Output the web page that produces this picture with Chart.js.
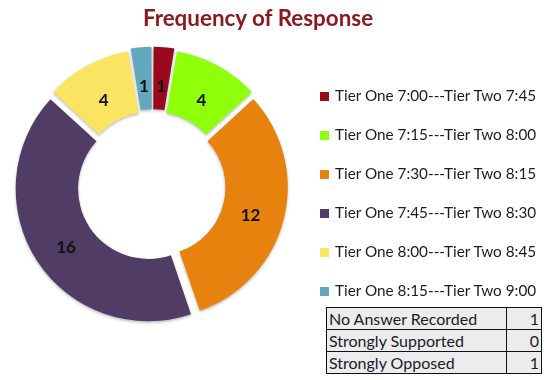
<!DOCTYPE html>
<html><head><meta charset="utf-8">
<script src="https://cdn.jsdelivr.net/npm/chart.js@4.4.1/dist/chart.umd.min.js"></script>
<style>
html,body{margin:0;padding:0;background:#fff;width:556px;height:380px;overflow:hidden;}
#wrap{position:relative;width:556px;height:380px;}
#c{position:absolute;left:0;top:0;}
#title{position:absolute;left:0;width:516px;top:4px;text-align:center;font:bold 22.4px Lato,sans-serif;color:#8b1a1e;white-space:nowrap;}
#legend{position:absolute;left:320px;top:86px;margin:0;padding:0;list-style:none;}
#legend li{height:39px;line-height:39px;font:15.3px Lato,sans-serif;color:#1c1c1c;white-space:nowrap;}
#legend .sw{display:inline-block;width:9px;height:9px;margin-right:6px;vertical-align:0px;}
#tbl{position:absolute;left:326px;top:307px;border-collapse:collapse;background:#ececec;}
#tbl td{border:1px solid #111;height:21px;line-height:20px;padding:0 2px;font:16px Lato,sans-serif;color:#1a1a2a;white-space:nowrap;}
#tbl td.n{text-align:right;width:30px;}
#tbl td.l{width:175px;}
</style></head>
<body><div id="wrap">
<canvas id="c" width="556" height="380"></canvas>
<div id="title">Frequency of Response</div>
<ul id="legend"></ul>
<table id="tbl"></table>
</div>
<script>
const categories = [
  "Tier One 7:00---Tier Two 7:45",
  "Tier One 7:15---Tier Two 8:00",
  "Tier One 7:30---Tier Two 8:15",
  "Tier One 7:45---Tier Two 8:30",
  "Tier One 8:00---Tier Two 8:45",
  "Tier One 8:15---Tier Two 9:00"
];
const responses = [1, 4, 12, 16, 4, 1];
const sliceColors = ["#990a1f", "#8fff0a", "#e8820e", "#503c64", "#fce463", "#64a8bd"];
const tableLabels = ["No Answer Recorded", "Strongly Supported", "Strongly Opposed"];
const tableValues = [1, 0, 1];

// legend
const leg = document.getElementById('legend');
categories.forEach((c, i) => {
  const li = document.createElement('li');
  const sw = document.createElement('span');
  sw.className = 'sw'; sw.style.background = sliceColors[i];
  li.appendChild(sw);
  li.appendChild(document.createTextNode(c));
  leg.appendChild(li);
});
// table
const tbl = document.getElementById('tbl');
tableLabels.forEach((t, i) => {
  const tr = document.createElement('tr');
  const a = document.createElement('td'); a.className = 'l'; a.textContent = t;
  const b = document.createElement('td'); b.className = 'n'; b.textContent = tableValues[i];
  tr.appendChild(a); tr.appendChild(b); tbl.appendChild(tr);
});

const shadowPlugin = {
  id: 'shadow',
  beforeDatasetsDraw(chart) {
    const c = chart.ctx; c.save();
    c.shadowColor = 'rgba(0,0,0,0.28)'; c.shadowBlur = 3; c.shadowOffsetX = 0; c.shadowOffsetY = 1.5;
  },
  afterDatasetsDraw(chart) { chart.ctx.restore(); }
};
const labelPlugin = {
  id: 'sliceLabels',
  afterDatasetsDraw(chart) {
    const meta = chart.getDatasetMeta(0);
    const ds = chart.data.datasets[0];
    const ctx = chart.ctx;
    ctx.save();
    ctx.font = 'bold 17px Lato, sans-serif';
    ctx.fillStyle = '#111';
    ctx.textAlign = 'center';
    ctx.textBaseline = 'middle';
    meta.data.forEach((arc, i) => {
      const p = arc.getProps(['x', 'y', 'startAngle', 'endAngle', 'innerRadius', 'outerRadius', 'circumference']);
      const off = (arc.options.offset || 0) / 4;
      const fix = 1 - Math.sin(Math.min(Math.PI, p.circumference));
      const mid = (p.startAngle + p.endAngle) / 2;
      const r = off + off * fix + p.innerRadius + 0.45 * (p.outerRadius - p.innerRadius);
      ctx.fillText(String(ds.data[i]), p.x + Math.cos(mid) * r, p.y + Math.sin(mid) * r + 5);
    });
    ctx.restore();
  }
};

new Chart(document.getElementById('c'), {
  type: 'doughnut',
  data: {
    labels: categories,
    datasets: [{
      data: responses,
      backgroundColor: sliceColors,
      borderWidth: 0,
      offset: 20,
      hoverOffset: 0
    }]
  },
  options: {
    responsive: false,
    animation: false,
    radius: 130,
    cutout: '52%',
    layout: { padding: { left: 12.5, right: 263.5, top: 46, bottom: 54 } },
    plugins: { legend: { display: false }, tooltip: { enabled: false }, title: { display: false } },
    events: []
  },
  plugins: [shadowPlugin, labelPlugin]
});
</script>
</body></html>
